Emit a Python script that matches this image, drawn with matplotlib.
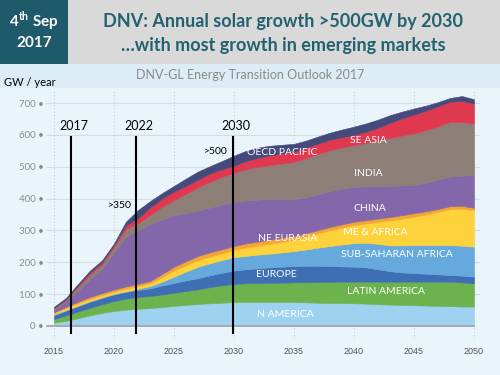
import matplotlib
matplotlib.use('Agg')
import matplotlib.pyplot as plt
from matplotlib.patches import Rectangle

plt.rcParams['font.family'] = ['Lato', 'DejaVu Sans']
plt.rcParams['mathtext.fontset'] = 'custom'
plt.rcParams['mathtext.bf'] = 'Lato:bold'

years = list(range(2015, 2051))

# GW / year per region (bottom layer first)
n_america = [10, 16, 24, 33, 41, 47, 51, 54, 56, 59, 63, 66, 69, 71, 73, 75, 75, 75,
             75, 75, 75, 74, 73, 72, 72, 71, 70, 68, 67, 66, 65, 64, 63, 62, 61, 61]
latin_america = [12, 17, 21, 24, 27, 31, 35, 37, 38, 40, 41, 44, 46, 51, 55, 57, 59, 60,
                 61, 61, 62, 63, 65, 66, 67, 68, 69, 71, 72, 73, 74, 75, 76, 77, 76, 73]
europe = [12, 15, 17, 19, 20, 21, 21, 22, 24, 28, 31, 33, 35, 37, 39, 42, 44, 46,
          48, 50, 51, 52, 51, 50, 48, 47, 45, 39, 33, 29, 27, 25, 23, 21, 21, 21]
sub_saharan = [2, 2, 2, 2, 2, 2, 2, 4, 7, 12, 20, 28, 36, 38, 40, 42, 42, 43,
               43, 45, 47, 51, 57, 63, 69, 74, 77, 80, 81, 85, 88, 90, 92, 94, 94, 94]
me_africa = [4, 6, 7, 7, 7, 7, 8, 8, 9, 14, 19, 20, 21, 21, 21, 23, 26, 28,
             31, 33, 35, 40, 45, 50, 53, 57, 61, 69, 79, 84, 89, 96, 104, 113, 116, 115]
ne_eurasia = [3, 4, 5, 6, 6, 6, 7, 7, 7, 10, 12, 12, 13, 13, 13, 12, 13, 13,
              13, 13, 12, 11, 10, 10, 10, 10, 10, 10, 10, 11, 11, 10, 9, 9, 9, 7]
china = [7, 18, 36, 57, 75, 118, 156, 168, 179, 172, 162, 152, 142, 141, 140, 139, 135, 132,
         127, 121, 116, 113, 113, 113, 112, 110, 106, 102, 98, 93, 89, 90, 93, 93, 95, 103]
india = [5, 4, 10, 14, 16, 16, 25, 22, 28, 39, 47, 60, 73, 81, 87, 92, 98, 103,
         107, 112, 117, 123, 126, 128, 130, 131, 137, 143, 150, 157, 162, 165, 167, 172, 168, 162]
se_asia = [2, 2, 5, 6, 6, 6, 11, 16, 24, 26, 27, 25, 25, 26, 24, 22, 26, 28,
           31, 32, 32, 33, 33, 33, 32, 32, 35, 40, 48, 54, 59, 61, 63, 63, 67, 63]
oecd_pacific = [3, 4, 5, 6, 6, 5, 12, 26, 20, 17, 18, 23, 25, 23, 26, 31, 32, 32,
                30, 27, 25, 22, 22, 22, 24, 26, 26, 26, 24, 21, 19, 16, 13, 12, 15, 13]

layers = [n_america, latin_america, europe, sub_saharan, me_africa,
          ne_eurasia, china, india, se_asia, oecd_pacific]
colors = ['#9dd3f1', '#6cb24d', '#3e6eb4', '#66a9dd', '#fdd23a',
          '#f6a532', '#8466ab', '#8d7e78', '#e0394f', '#444a7c']

labels = ['N AMERICA', 'LATIN AMERICA', 'EUROPE', 'SUB-SAHARAN AFRICA', 'ME & AFRICA',
          'NE EURASIA', 'CHINA', 'INDIA', 'SE ASIA', 'OECD PACIFIC']
label_x = [2034.3, 2042.7, 2033.5, 2043.6, 2041.8, 2034.5, 2041.3, 2041.2, 2041.2, 2034.0]
label_y = [35, 107, 163, 223, 295, 276, 370, 480, 581, 546]

marker_years = [2016.4, 2021.8, 2029.9]
marker_labels = ['2017', '2022', '2030']
note_text = ['>350', '>500']
note_x = [2020.5, 2028.5]
note_y = [377, 549]

fig = plt.figure(figsize=(5, 3.75), dpi=100)
fig.patch.set_facecolor('#eaf5fb')

# header bands
fig.patches.append(Rectangle((0, 1 - 64 / 375), 1, 64 / 375, transform=fig.transFigure,
                             facecolor='#d9d9d9', edgecolor='none', zorder=0))
fig.patches.append(Rectangle((0, 1 - 64 / 375), 68 / 500, 64 / 375, transform=fig.transFigure,
                             facecolor='#1f5a6b', edgecolor='none', zorder=0))
fig.patches.append(Rectangle((0, 1 - 88 / 375), 1, 24 / 375, transform=fig.transFigure,
                             facecolor='#dcedf5', edgecolor='none', zorder=0))

fig.text(34 / 500, 1 - 21 / 375, r'4$^{\mathbf{th}}$ Sep', color='white', fontsize=11,
         fontweight='bold', ha='center', va='center')
fig.text(34 / 500, 1 - 43 / 375, '2017', color='white', fontsize=11,
         fontweight='bold', ha='center', va='center')
fig.text(283 / 500, 1 - 21 / 375, 'DNV: Annual solar growth >500GW by 2030', color='#22616f',
         fontsize=13, fontweight='bold', ha='center', va='center')
fig.text(283 / 500, 1 - 45 / 375, '…with most growth in emerging markets', color='#22616f',
         fontsize=13, fontweight='bold', ha='center', va='center')
fig.text(250 / 500, 1 - 75 / 375, 'DNV-GL Energy Transition Outlook 2017', color='#8a8a8a',
         fontsize=9, ha='center', va='center')
fig.text(4 / 500, 1 - 83 / 375, 'GW / year', color='black', fontsize=8, ha='left', va='center')

ax = fig.add_axes([46 / 500, (375 - 339) / 375, (480 - 46) / 500, (339 - 90) / 375])
ax.set_facecolor('none')
ax.set_xlim(2014.333, 2050.5)
ax.set_ylim(-41, 741)

for yv in range(100, 800, 100):
    ax.axhline(yv, color='#d3dde2', lw=0.8, zorder=0)
for xv in range(2015, 2051, 5):
    ax.axvline(xv, color='#c2ced4', lw=0.8, ls=(0, (1, 2)), zorder=0)

polys = ax.stackplot(years, layers, colors=colors, zorder=2)
for p, c in zip(polys, colors):
    p.set_edgecolor(c)
    p.set_linewidth(0.4)

ax.plot([2014.4, 2050], [0, 0], color='#a6a6a6', lw=1.3, zorder=3, clip_on=False)

for xv, lab in zip(marker_years, marker_labels):
    ax.plot([xv, xv], [593, -22], color='black', lw=1.5, zorder=4, clip_on=False)
    ax.text(xv + 0.3, 628, lab, color='black', fontsize=9, ha='center', va='center')

for t, xv, yv in zip(note_text, note_x, note_y):
    ax.text(xv, yv, t, color='black', fontsize=7.5, ha='center', va='center')

for lab, xv, yv in zip(labels, label_x, label_y):
    ax.text(xv, yv, lab, color='white', fontsize=7.5, ha='center', va='center', zorder=5)

for s in ax.spines.values():
    s.set_visible(False)
ax.set_xticks(range(2015, 2051, 5))
ax.set_xticklabels([str(v) for v in range(2015, 2051, 5)], fontsize=6.5, color='#555555',
                   family='Liberation Sans')
ax.set_yticks(range(0, 800, 100))
ax.set_yticklabels([f'{v} •' for v in range(0, 800, 100)], fontsize=7, color='#8a8a8a')
ax.tick_params(axis='x', length=0, pad=5.5)
ax.tick_params(axis='y', length=0, pad=1.5)

fig.savefig('out.png', dpi=100, facecolor=fig.get_facecolor())
